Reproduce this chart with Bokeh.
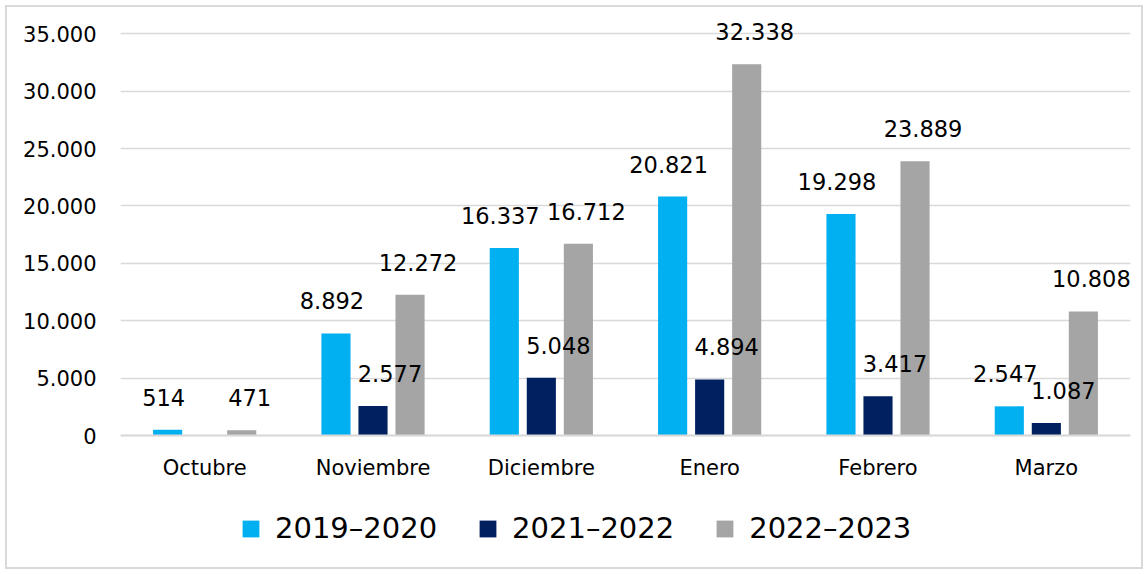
from bokeh.plotting import figure
from bokeh.models import ColumnDataSource, FactorRange, Range1d, Legend, LegendItem, FixedTicker, CustomJSTickFormatter
from bokeh.transform import dodge
from bokeh.embed import file_html
from bokeh.resources import INLINE
from bokeh.core.properties import value

months = ["Octubre", "Noviembre", "Diciembre", "Enero", "Febrero", "Marzo"]
s2019 = [514, 8892, 16337, 20821, 19298, 2547]
s2021 = [0, 2577, 5048, 4894, 3417, 1087]
s2022 = [471, 12272, 16712, 32338, 23889, 10808]
series_names = ["2019–2020", "2021–2022", "2022–2023"]
y_ticks = [0, 5000, 10000, 15000, 20000, 25000, 30000, 35000]

def fmt(v):
    return "{:,}".format(v).replace(",", ".")

src = ColumnDataSource(dict(
    m=months,
    a=s2019, b=s2021, c=s2022,
    la=[fmt(v) for v in s2019],
    lb=["" if v == 0 else fmt(v) for v in s2021],
    lc=[fmt(v) for v in s2022],
))

FONT = "DejaVu Sans"
# frame spans the legend area too; the value axis ticks run 0..35000 and the category axis sits at y = 0
p = figure(x_range=FactorRange(*months, range_padding=0), y_range=Range1d(-10965, 37281),
           width=1138, height=564, output_backend="svg", toolbar_location=None,
           min_border_left=113, min_border_right=15, min_border_top=0, min_border_bottom=10)
p.margin = (5, 5, 5, 5)
p.styles = {"border": "2px solid #d9d9d9", "box-sizing": "border-box"}
p.outline_line_color = None
p.background_fill_color = "white"

colors = ["#00B0F0", "#002060", "#A5A5A5"]
cols = ["a", "b", "c"]
labs = ["la", "lb", "lc"]
offs = [-0.22, 0.0, 0.22]
lab_xoff = [-4, 17, 8]
renderers = []
for col, off, colr in zip(cols, offs, colors):
    r = p.vbar(x=dodge("m", off, range=p.x_range), top=col, width=0.173, source=src,
               fill_color=colr, line_color=None)
    renderers.append(r)
for col, lab, off, xo in zip(cols, labs, offs, lab_xoff):
    p.text(x=dodge("m", off, range=p.x_range), y=col, text=lab, source=src,
           text_align="center", text_baseline="bottom", x_offset=xo, y_offset=-24,
           text_font=value(FONT), text_font_size="22.5px", text_color="black")

p.yaxis.ticker = FixedTicker(ticks=y_ticks)
p.yaxis.formatter = CustomJSTickFormatter(code="return tick.toLocaleString('de-DE');")
p.yaxis.axis_line_color = None
p.yaxis.major_tick_line_color = None
p.yaxis.major_tick_out = 0
p.yaxis.minor_tick_line_color = None
p.yaxis.major_label_text_font = FONT
p.yaxis.major_label_text_font_size = "21px"
p.yaxis.major_label_text_color = "black"
p.yaxis.major_label_standoff = 24

p.xaxis.fixed_location = 0
p.xaxis.axis_line_color = "#d9d9d9"
p.xaxis.axis_line_width = 2
p.xaxis.major_tick_line_color = None
p.xaxis.major_tick_out = 0
p.xaxis.minor_tick_line_color = None
p.xaxis.major_label_text_font = FONT
p.xaxis.major_label_text_font_size = "21px"
p.xaxis.major_label_text_color = "black"
p.xaxis.major_label_standoff = 20

p.xgrid.grid_line_color = None
p.ygrid.grid_line_color = "#d9d9d9"
p.ygrid.grid_line_width = 1.5
p.ygrid.ticker = FixedTicker(ticks=y_ticks)

legend = Legend(items=[LegendItem(label=n, renderers=[r]) for n, r in zip(series_names, renderers)],
                orientation="horizontal", location=(120, 16),
                label_text_font=FONT, label_text_font_size="29px", label_text_color="black",
                glyph_width=21, glyph_height=21, label_height=32, label_standoff=14,
                spacing=40, padding=0, margin=0, border_line_color=None,
                background_fill_alpha=0)
p.add_layout(legend, "center")

open("out.html", "w").write(file_html(p, INLINE))
